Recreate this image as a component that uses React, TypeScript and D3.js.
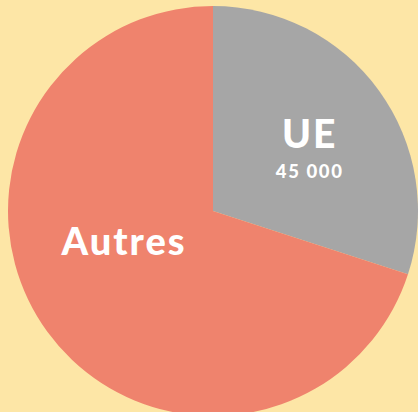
import React from "react";
import * as d3 from "d3";

const categories = ["UE", "Autres"];
const values = [45000, 105000];
const valueLabels = ["45 000", ""];
const colors = ["#A6A6A6", "#EF836D"];

export default function App() {
  const W = 418, H = 412;
  const cx = 213, cy = 211, R = 205;
  const pie = d3.pie<number>().sort(null).value((d) => d)(values);
  const arc = d3.arc<d3.PieArcDatum<number>>().innerRadius(0).outerRadius(R);
  const polar = (a: number, r: number) => [Math.sin(a) * r, -Math.cos(a) * r];
  const mid0 = (pie[0].startAngle + pie[0].endAngle) / 2 + 0.03;
  const uePos = polar(mid0, 117);
  const mid1 = (pie[1].startAngle + pie[1].endAngle) / 2 + 0.3;
  const autresPos = polar(mid1, 94);
  return (
    <div style={{ position: "fixed", inset: 0, background: "#FDE6A6" }}>
      <svg width={W} height={H} style={{ display: "block" }}>
        <rect width={W} height={H} fill="#FDE6A6" />
        <g transform={`translate(${cx},${cy})`}>
          {pie.map((p, i) => (
            <path key={categories[i]} d={arc(p) || ""} fill={colors[i]} />
          ))}
          <text
            x={uePos[0]}
            y={uePos[1] + 3}
            textAnchor="middle"
            fill="#fff"
            fontFamily="Lato"
            fontWeight={900}
            fontSize={39}
            letterSpacing={2}
          >
            {categories[0]}
          </text>
          <text
            x={uePos[0]}
            y={uePos[1] + 33}
            textAnchor="middle"
            fill="#fff"
            fontFamily="Lato"
            fontWeight={900}
            fontSize={18.5}
            letterSpacing={1.6}
          >
            {valueLabels[0]}
          </text>
          <text
            x={autresPos[0]}
            y={autresPos[1] + 14}
            textAnchor="middle"
            fill="#fff"
            fontFamily="Lato"
            fontWeight={900}
            fontSize={38}
            letterSpacing={2}
          >
            {categories[1]}
          </text>
        </g>
      </svg>
    </div>
  );
}
